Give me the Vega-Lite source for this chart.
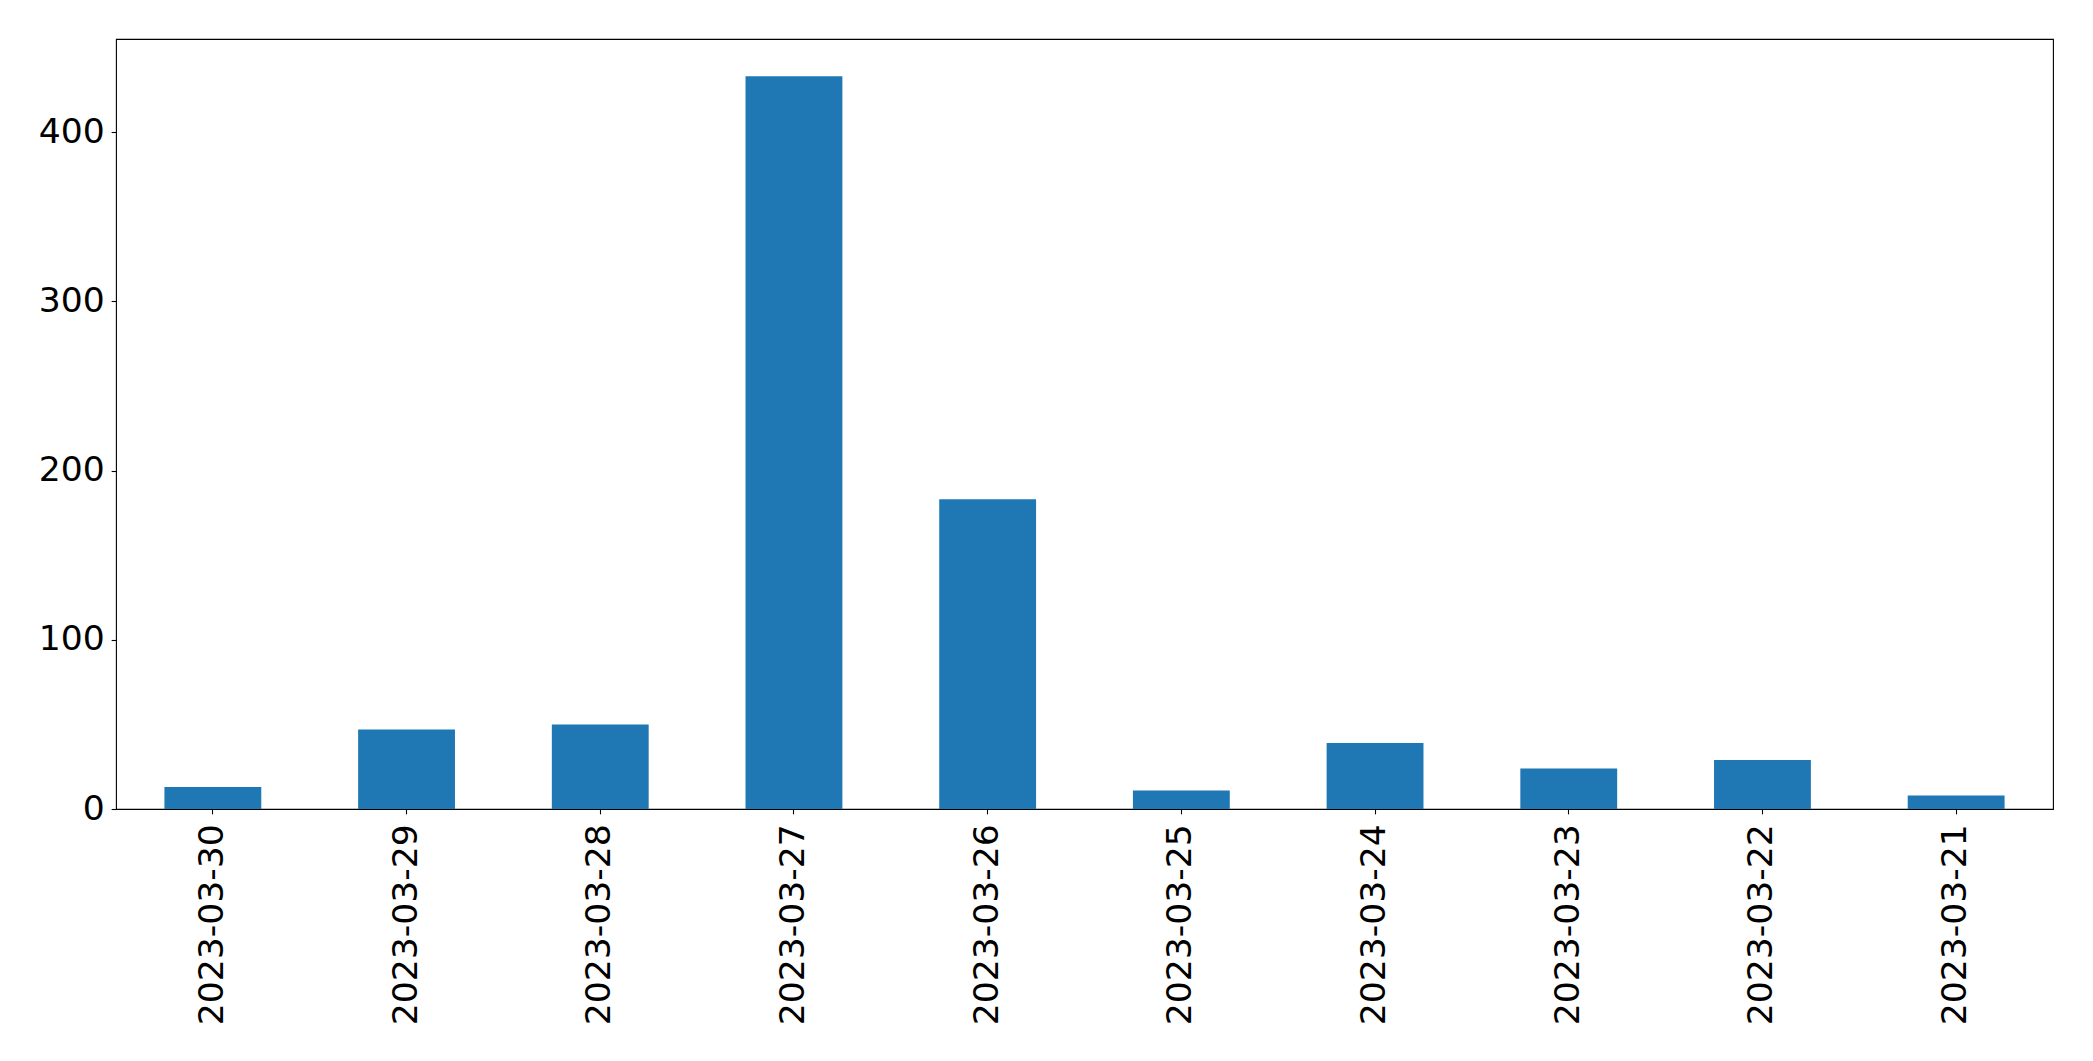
{
  "$schema": "https://vega.github.io/schema/vega-lite/v6.json",
  "autosize": {"type": "none"},
  "padding": {"left": 116, "top": 39, "right": 40, "bottom": 252},
  "width": 1937,
  "height": 770,
  "background": "white",
  "config": {
    "view": {"stroke": "black", "strokeWidth": 1.1},
    "axis": {
      "domain": false,
      "grid": false,
      "tickColor": "black",
      "tickSize": 4.86,
      "tickWidth": 1.1,
      "labelFont": "DejaVu Sans",
      "labelFontSize": 34.6,
      "labelColor": "black",
      "labelLimit": 0,
      "title": null
    }
  },
  "data": {
    "values": [
      {"date": "2023-03-30", "count": 13},
      {"date": "2023-03-29", "count": 47},
      {"date": "2023-03-28", "count": 50},
      {"date": "2023-03-27", "count": 433},
      {"date": "2023-03-26", "count": 183},
      {"date": "2023-03-25", "count": 11},
      {"date": "2023-03-24", "count": 39},
      {"date": "2023-03-23", "count": 24},
      {"date": "2023-03-22", "count": 29},
      {"date": "2023-03-21", "count": 8}
    ]
  },
  "mark": {"type": "bar", "color": "#1f77b4"},
  "encoding": {
    "x": {
      "field": "date",
      "type": "nominal",
      "sort": null,
      "scale": {"paddingInner": 0.5, "paddingOuter": 0.25},
      "axis": {"labelAngle": -90, "labelAlign": "right", "labelBaseline": "middle", "labelPadding": 10}
    },
    "y": {
      "field": "count",
      "type": "quantitative",
      "scale": {"domain": [0, 455], "nice": false},
      "axis": {"values": [0, 100, 200, 300, 400], "labelPadding": 7}
    }
  }
}
